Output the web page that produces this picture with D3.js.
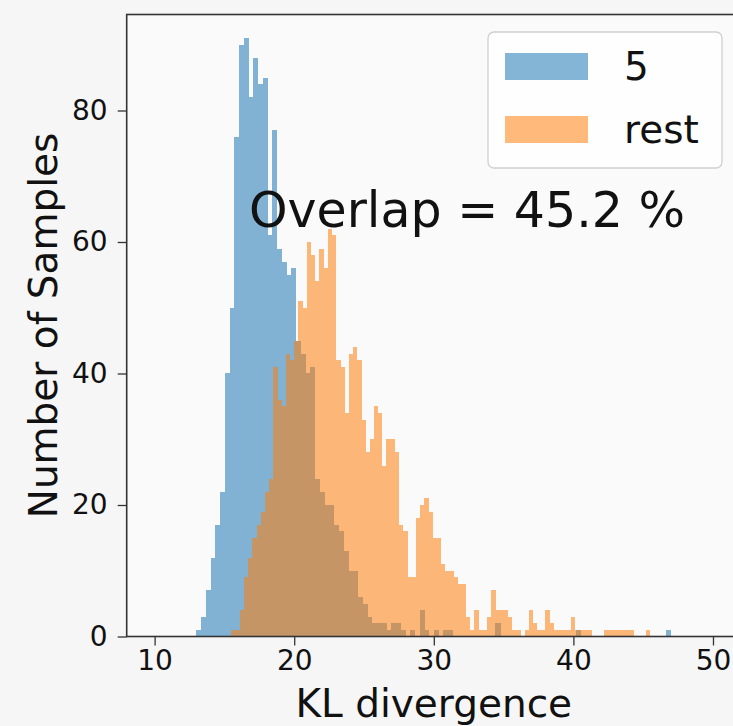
<!DOCTYPE html>
<html>
<head>
<meta charset="utf-8">
<script src="https://cdnjs.cloudflare.com/ajax/libs/d3/7.8.5/d3.min.js"></script>
<style>
    body { margin: 0; background: #f6f6f6; }
    text { font-family: "DejaVu Sans", sans-serif; fill: #111; }
</style>
</head>
<body>
<div id="chart"></div>
<script>
// histogram counts, 100 bins each
var blueRange = [13.0, 47.0];
var blueCounts = [
    1, 3, 7, 12, 17, 22, 40, 50, 76, 90,
    91, 82, 88, 84, 85, 61, 77, 59, 57, 55,
    56, 45, 43, 40, 41, 24, 22, 20, 20, 17,
    16, 13, 10, 10, 6, 5, 3, 2, 2, 2,
    1, 2, 2, 1, 0, 1, 0, 4, 1, 0,
    1, 0, 1, 1, 0, 0, 0, 0, 0, 0,
    0, 0, 0, 2, 0, 0, 0, 0, 0, 0,
    0, 0, 0, 0, 0, 0, 0, 0, 0, 0,
    1, 0, 0, 0, 0, 0, 0, 0, 0, 0,
    0, 0, 0, 0, 0, 0, 0, 0, 0, 1
];
var orangeRange = [15.5, 45.5];
var orangeCounts = [
    1, 1, 4, 9, 12, 15, 17, 19, 22, 24,
    41, 36, 35, 43, 42, 45, 51, 50, 60, 58,
    54, 59, 56, 62, 61, 42, 41, 34, 43, 44,
    42, 33, 28, 30, 35, 34, 26, 30, 30, 28,
    17, 16, 9, 9, 18, 20, 21, 19, 15, 15,
    11, 10, 10, 9, 8, 8, 3, 1, 4, 1,
    1, 3, 7, 4, 4, 4, 3, 1, 1, 0,
    1, 4, 2, 1, 1, 4, 2, 1, 1, 1,
    1, 3, 1, 1, 1, 1, 0, 0, 0, 1,
    1, 1, 1, 1, 1, 1, 0, 0, 0, 1
];
var seriesNames = ["5", "rest"];
var xTicks = [10, 20, 30, 40, 50];
var yTicks = [0, 20, 40, 60, 80];
var overlapText = "Overlap = 45.2 %";

var width = 733,
    height = 726;
var colour = d3.scaleOrdinal(seriesNames, ["#1f77b4", "#ff7f0e"]);
var alpha = 0.55;

var x = d3.scaleLinear()
    .domain([8, 52])
    .range([126.7, 740.9]);
var y = d3.scaleLinear()
    .domain([0, 94.6])
    .range([636.5, 14.5]);

var svg = d3.select("#chart").append("svg")
    .attr("width", width)
    .attr("height", height);

svg.append("rect")
    .attr("width", width)
    .attr("height", height)
    .attr("fill", "#f6f6f6");

// plot area
svg.append("rect")
    .attr("x", x.range()[0])
    .attr("y", y.range()[1])
    .attr("width", x.range()[1] - x.range()[0])
    .attr("height", y.range()[0] - y.range()[1])
    .attr("fill", "#fafafa");

function makeBins(range, counts) {
    var w = (range[1] - range[0]) / counts.length;
    return counts.map(function(c, i) {
        return { x0: range[0] + i * w, x1: range[0] + (i + 1) * w, count: c };
    });
}

var series = [
    { name: seriesNames[0], bins: makeBins(blueRange, blueCounts) },
    { name: seriesNames[1], bins: makeBins(orangeRange, orangeCounts) }
];

var bars = svg.append("g");
series.forEach(function(s) {
    bars.append("g")
        .attr("opacity", alpha)
        .attr("fill", colour(s.name))
        .selectAll("rect")
        .data(s.bins.filter(function(d) { return d.count > 0; }))
        .enter().append("rect")
        .attr("shape-rendering", "crispEdges")
        .attr("x", function(d) { return x(d.x0); })
        .attr("width", function(d) { return x(d.x1) - x(d.x0) + 0.3; })
        .attr("y", function(d) { return y(d.count); })
        .attr("height", function(d) { return y(0) - y(d.count); });
});

// axes
var xAxis = d3.axisBottom(x)
    .tickValues(xTicks)
    .tickSize(9)
    .tickPadding(5);
var yAxis = d3.axisLeft(y)
    .tickValues(yTicks)
    .tickSize(9)
    .tickPadding(10);

var xAxisElem = svg.append("g")
    .attr("transform", "translate(0," + y(0) + ")")
    .call(xAxis);
var yAxisElem = svg.append("g")
    .attr("transform", "translate(" + x.range()[0] + ",0)")
    .call(yAxis);

[xAxisElem, yAxisElem].forEach(function(a) {
    a.select(".domain").remove();
    a.selectAll("line").attr("stroke", "#333").attr("stroke-width", 1.3);
    a.selectAll("text")
        .style("font-family", "DejaVu Sans")
        .style("font-size", "28px")
        .attr("fill", "#222");
});

// spines
svg.append("rect")
    .attr("x", x.range()[0])
    .attr("y", y.range()[1])
    .attr("width", x.range()[1] - x.range()[0])
    .attr("height", y.range()[0] - y.range()[1])
    .attr("fill", "none")
    .attr("stroke", "#333")
    .attr("stroke-width", 1.6);

svg.append("text")
    .attr("x", (x.range()[0] + x.range()[1]) / 2)
    .attr("y", 717)
    .attr("text-anchor", "middle")
    .style("font-size", "39px")
    .text("KL divergence");

svg.append("text")
    .attr("text-anchor", "middle")
    .attr("transform", "translate(57," + (y.range()[0] + y.range()[1]) / 2 + ") rotate(-90)")
    .style("font-size", "39px")
    .text("Number of Samples");

svg.append("text")
    .attr("x", 249)
    .attr("y", 227)
    .style("font-size", "49px")
    .text(overlapText);

// legend
var legend = svg.append("g");
legend.append("rect")
    .attr("x", 488)
    .attr("y", 32)
    .attr("width", 234)
    .attr("height", 136)
    .attr("rx", 6)
    .attr("fill", "#ffffff")
    .attr("fill-opacity", 0.8)
    .attr("stroke", "#d0d0d0")
    .attr("stroke-width", 1.3);

var items = legend.selectAll("g.item")
    .data(seriesNames)
    .enter().append("g")
    .attr("class", "item")
    .attr("transform", function(d, i) { return "translate(0," + (i * 63) + ")"; });
items.append("rect")
    .attr("x", 505)
    .attr("y", 53)
    .attr("width", 83)
    .attr("height", 27)
    .attr("fill", function(d) { return colour(d); })
    .attr("fill-opacity", alpha);
items.append("text")
    .attr("x", 624)
    .attr("y", 80)
    .style("font-size", "39px")
    .text(function(d) { return d; });
</script>
</body>
</html>
